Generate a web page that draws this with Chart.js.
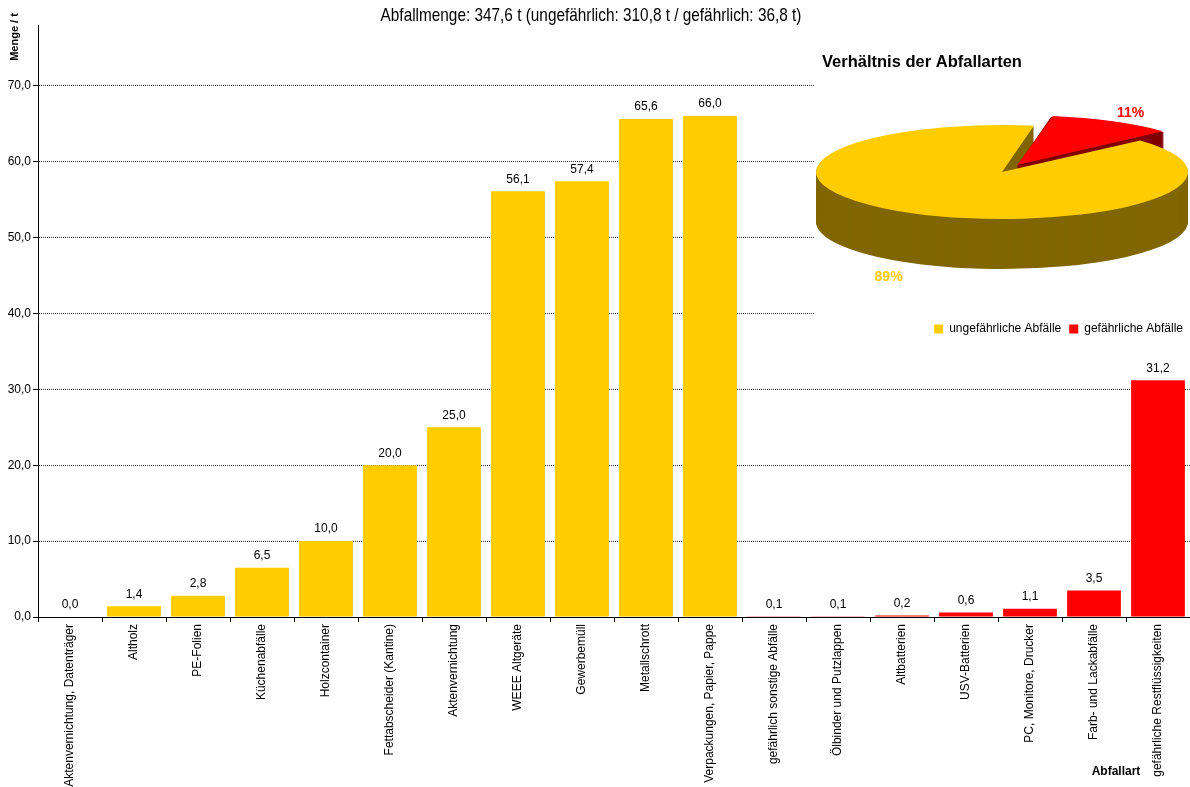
<!DOCTYPE html>
<html>
<head>
<meta charset="utf-8">
<script src="https://cdn.jsdelivr.net/npm/chart.js@4/dist/chart.umd.min.js"></script>
<style>
  html, body { margin: 0; padding: 0; background: #fff; }
  #wrap { position: relative; width: 1190px; height: 787px; overflow: hidden; }
  #main { position: absolute; left: 0; top: 0; }
  #pie { position: absolute; left: 815px; top: 40px; background: #fff; }
</style>
</head>
<body>
<div id="wrap">
  <canvas id="main" width="1190" height="787"></canvas>
  <canvas id="pie" width="376" height="305"></canvas>
</div>
<script>
// ---- data ----
const categories = [
  "Aktenvernichtung, Datenträger", "Altholz", "PE-Folien", "Küchenabfälle", "Holzcontainer",
  "Fettabscheider (Kantine)", "Aktenvernichtung", "WEEE Altgeräte", "Gewerbemüll", "Metallschrott",
  "Verpackungen, Papier, Pappe", "gefährlich sonstige Abfälle", "Ölbinder und Putzlappen", "Altbatterien",
  "USV-Batterien", "PC, Monitore, Drucker", "Farb- und Lackabfälle", "gefährliche Restflüssigkeiten"
];
const amounts = [0.0, 1.4, 2.8, 6.5, 10.0, 20.0, 25.0, 56.1, 57.4, 65.6, 66.0, 0.1, 0.1, 0.2, 0.6, 1.1, 3.5, 31.2];
const hazardous = [false, false, false, false, false, false, false, false, false, false, false, true, true, true, true, true, true, true];
const yTicks = [0, 10, 20, 30, 40, 50, 60, 70];
const mainTitle = "Abfallmenge: 347,6 t (ungefährlich: 310,8 t / gefährlich: 36,8 t)";
const yTitle = "Menge / t";
const xTitle = "Abfallart";

const pieTitle = "Verhältnis der Abfallarten";
const pieLabels = ["ungefährliche Abfälle", "gefährliche Abfälle"];
const pieValues = [310.8, 36.8];

// ---- styles ----
const YELLOW = "#FFCC00", RED = "#FF0000";
const YELLOW_SIDE = "#806600", RED_SIDE = "#800000";
const FONT = "'Liberation Sans', Arial, sans-serif";
const fmt = v => v.toFixed(1).replace('.', ',');

// ---- main bar chart ----
const textPlugin = {
  id: 'texts',
  afterDatasetsDraw(chart) {
    const ctx = chart.ctx;
    const meta = chart.getDatasetMeta(0);
    ctx.save();
    ctx.font = "12px " + FONT;
    ctx.fillStyle = "#000";
    ctx.textAlign = "center";
    ctx.textBaseline = "bottom";
    meta.data.forEach((el, i) => {
      ctx.fillText(fmt(amounts[i]), el.x, el.y - 6);
    });
    ctx.restore();
  },
  afterDraw(chart) {
    const ctx = chart.ctx;
    // main title (narrow style)
    ctx.save();
    ctx.font = "18.5px " + FONT;
    ctx.fillStyle = "#000";
    ctx.textAlign = "center";
    ctx.textBaseline = "alphabetic";
    ctx.translate(591, 21);
    ctx.scale(0.83, 1);
    ctx.fillText(mainTitle, 0, 0);
    ctx.restore();
    // axis titles
    ctx.save();
    ctx.font = "bold 12px " + FONT;
    ctx.fillStyle = "#000";
    ctx.textAlign = "center";
    ctx.textBaseline = "middle";
    ctx.fillText(xTitle, 1116, 772);
    ctx.font = "bold 11px " + FONT;
    ctx.translate(15, 37);
    ctx.rotate(-Math.PI / 2);
    ctx.fillText(yTitle, 0, 0);
    ctx.restore();
  }
};

new Chart(document.getElementById('main'), {
  type: 'bar',
  data: {
    labels: categories,
    datasets: [{
      data: amounts,
      backgroundColor: hazardous.map(h => h ? RED : YELLOW),
      borderWidth: 0,
      categoryPercentage: 1.0,
      barPercentage: 0.84
    }]
  },
  options: {
    responsive: false,
    animation: false,
    devicePixelRatio: 1,
    layout: { padding: { top: 25, left: 0, right: 0, bottom: 0 } },
    plugins: {
      legend: { display: false },
      tooltip: { enabled: false },
      title: { display: false }
    },
    scales: {
      x: {
        afterFit: s => { s.height = 170; },
        grid: { display: true, offset: true, drawOnChartArea: false, drawTicks: true, tickLength: 5, tickColor: "#000" },
        border: { display: true, color: "#000", width: 1 },
        ticks: {
          autoSkip: false, minRotation: 90, maxRotation: 90, padding: 2,
          color: "#000", font: { family: FONT, size: 12 }
        }
      },
      y: {
        min: 0, max: 78,
        afterFit: s => { s.width = 38; },
        afterBuildTicks: s => { s.ticks = yTicks.map(v => ({ value: v })); },
        grid: { color: "#333", lineWidth: 1, drawTicks: true, tickLength: 5, tickColor: "#000" },
        border: { display: true, color: "#000", width: 1, dash: [1, 1] },
        ticks: {
          padding: 2, color: "#000", font: { family: FONT, size: 12 },
          callback: v => fmt(v)
        }
      }
    }
  },
  plugins: [textPlugin]
});

// ---- inset 3D pie ----
const PIE_CX = 187, PIE_CY = 132, PIE_RX = 186, PIE_RY = 47, PIE_DEPTH = 50;
const pieSide = [YELLOW_SIDE, RED_SIDE];
const pieLabelColors = [YELLOW, RED];

function arcPath(ctx, el) {
  const off = (el.options.offset || 0) / 4;
  const circ = el.endAngle - el.startAngle;
  const rOff = off * (1 - Math.sin(Math.min(Math.PI, circ)));
  const mid = (el.startAngle + el.endAngle) / 2;
  const ox = el.x + Math.cos(mid) * off, oy = el.y + Math.sin(mid) * off;
  ctx.beginPath();
  ctx.moveTo(ox, oy);
  ctx.arc(ox, oy, el.outerRadius + rOff, el.startAngle, el.endAngle);
  ctx.closePath();
}

const pie3d = {
  id: 'pie3d',
  beforeDatasetsDraw(chart) {
    const meta = chart.getDatasetMeta(0);
    const a = meta.data[0];
    const r = a.outerRadius;
    const ctx = chart.ctx;
    ctx.save();
    ctx.translate(PIE_CX, PIE_CY);
    ctx.scale(PIE_RX / r, PIE_RY / r);
    ctx.translate(-a.x, -a.y);
    const step = r / PIE_RY;
    for (let d = PIE_DEPTH; d > 0; d -= 1) {
      ctx.save();
      ctx.translate(0, d * step);
      meta.data.forEach((el, i) => {
        ctx.fillStyle = pieSide[i];
        arcPath(ctx, el);
        ctx.fill();
      });
      ctx.restore();
    }
  },
  afterDatasetsDraw(chart) {
    const ctx = chart.ctx;
    ctx.restore();
    const meta = chart.getDatasetMeta(0);
    const total = pieValues.reduce((s, v) => s + v, 0);
    const r = meta.data[0].outerRadius;
    ctx.save();
    ctx.font = "bold 14px " + FONT;
    ctx.textAlign = "center";
    ctx.textBaseline = "middle";
    meta.data.forEach((el, i) => {
      const mid = (el.startAngle + el.endAngle) / 2;
      const off = (el.options.offset || 0) / 4;
      const k = 1.26;
      const px = Math.cos(mid) * (off + k * r);
      const py = Math.sin(mid) * (off + k * r);
      let fx = PIE_CX + px * PIE_RX / r;
      let fy = PIE_CY + py * PIE_RY / r;
      if (Math.sin(mid) > 0) fy += PIE_DEPTH + 3;
      ctx.fillStyle = pieLabelColors[i];
      ctx.fillText(Math.round(pieValues[i] / total * 100) + "%", fx, fy);
    });
    ctx.restore();
  }
};

new Chart(document.getElementById('pie'), {
  type: 'pie',
  data: {
    labels: pieLabels,
    datasets: [{
      data: pieValues,
      backgroundColor: [YELLOW, RED],
      borderWidth: 0,
      offset: [0, 60]
    }]
  },
  options: {
    responsive: false,
    animation: false,
    devicePixelRatio: 1,
    rotation: 48,
    layout: { padding: { left: 7, right: 0, top: 0, bottom: 0 } },
    plugins: {
      tooltip: { enabled: false },
      title: {
        display: true, text: pieTitle, align: 'start', color: "#000",
        font: { family: FONT, size: 16.5, weight: 'bold', lineHeight: 1.2 },
        padding: { top: 13, bottom: 4 }
      },
      legend: {
        position: 'bottom', align: 'end',
        labels: {
          boxWidth: 9, boxHeight: 9, padding: 8, color: "#000",
          font: { family: FONT, size: 12 }
        }
      }
    }
  },
  plugins: [pie3d]
});
</script>
</body>
</html>
